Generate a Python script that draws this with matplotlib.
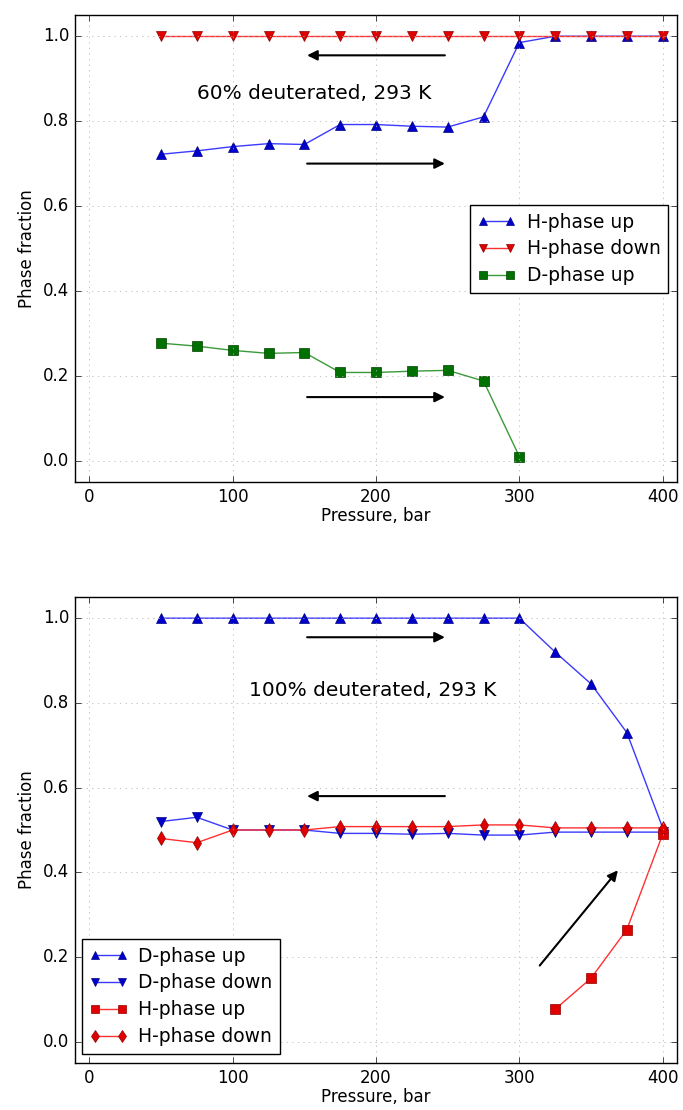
import numpy as np
import matplotlib
matplotlib.use('Agg')
import matplotlib.pyplot as plt

plt.style.use('classic')
plt.rcParams['figure.facecolor'] = 'white'
plt.rcParams['font.family'] = 'DejaVu Sans'
plt.rcParams['font.size'] = 12

# pressure steps, bar
p_all = [50, 75, 100, 125, 150, 175, 200, 225, 250, 275, 300, 325, 350, 375, 400]
p_low = [50, 75, 100, 125, 150, 175, 200, 225, 250, 275, 300]
p_high = [325, 350, 375, 400]

# 60% deuterated
h_up_60 = [0.722, 0.730, 0.740, 0.747, 0.745, 0.792, 0.792, 0.788, 0.786, 0.810,
           0.985, 1.0, 1.0, 1.0, 1.0]
h_down_60 = [1.0] * 15
d_up_60 = [0.277, 0.270, 0.260, 0.253, 0.255, 0.208, 0.208, 0.211, 0.213, 0.188, 0.010]

# 100% deuterated
d_up_100 = [1.0, 1.0, 1.0, 1.0, 1.0, 1.0, 1.0, 1.0, 1.0, 1.0, 1.0,
            0.920, 0.845, 0.730, 0.505]
d_down_100 = [0.520, 0.530, 0.500, 0.500, 0.500, 0.492, 0.492, 0.490, 0.492, 0.488,
              0.488, 0.495, 0.495, 0.495, 0.495]
h_up_100 = [0.077, 0.150, 0.265, 0.490]
h_down_100 = [0.480, 0.470, 0.500, 0.500, 0.500, 0.508, 0.508, 0.508, 0.508, 0.512,
              0.512, 0.505, 0.505, 0.505, 0.505]

fig = plt.figure(figsize=(6.83, 11.10), dpi=100)
W, H = 683., 1110.
ax1 = fig.add_axes([75/W, 1 - 482/H, 602/W, 467/H])
ax2 = fig.add_axes([75/W, 1 - 1063/H, 602/W, 466/H])

ms = 7.5
blue = dict(color='#3a3aff', mfc='#0000cc', mec='#000080', ms=ms, lw=1)
red = dict(color='#ff3030', mfc='#e00000', mec='#900000', ms=ms, lw=1)
green = dict(color='#3a9a3a', mfc='#007000', mec='#004000', ms=ms, lw=1)

ax1.plot(p_all, h_up_60, '-^', label='H-phase up', **blue)
ax1.plot(p_all, h_down_60, '-v', label='H-phase down', **red)
ax1.plot(p_low, d_up_60, '-s', label='D-phase up', **green)

ax2.plot(p_all, d_up_100, '-^', label='D-phase up', **blue)
ax2.plot(p_all, d_down_100, '-v', label='D-phase down', **blue)
ax2.plot(p_high, h_up_100, '-s', label='H-phase up', **red)
ax2.plot(p_all, h_down_100, '-d', label='H-phase down', **red)

arrow = dict(arrowstyle='-|>', color='black', lw=1.5, mutation_scale=15)
ax1.annotate('', xy=(150, 0.955), xytext=(250, 0.955), arrowprops=arrow)
ax1.annotate('', xy=(250, 0.70), xytext=(150, 0.70), arrowprops=arrow)
ax1.annotate('', xy=(250, 0.15), xytext=(150, 0.15), arrowprops=arrow)
ax1.text(157, 0.865, '60% deuterated, 293 K', ha='center', va='center', fontsize=14.5)

ax2.annotate('', xy=(250, 0.955), xytext=(150, 0.955), arrowprops=arrow)
ax2.annotate('', xy=(150, 0.58), xytext=(250, 0.58), arrowprops=arrow)
ax2.annotate('', xy=(370, 0.41), xytext=(313, 0.175), arrowprops=arrow)
ax2.text(198, 0.83, '100% deuterated, 293 K', ha='center', va='center', fontsize=14.5)

for ax in (ax1, ax2):
    ax.set_xlim(-10, 410)
    ax.set_ylim(-0.05, 1.05)
    ax.set_xticks([0, 100, 200, 300, 400])
    ax.set_yticks([0.0, 0.2, 0.4, 0.6, 0.8, 1.0])
    ax.grid(True, color='#b0b0b0', linestyle=':')
    ax.set_xlabel('Pressure, bar', labelpad=1)
    ax.set_ylabel('Phase fraction')
    ax.tick_params(labelsize=12)

leg_style = dict(borderaxespad=0, numpoints=2, fontsize=13.5, handlelength=2.0,
                 handletextpad=0.6, labelspacing=0.42, borderpad=0.4,
                 markerscale=0.8, fancybox=False)
ax1.legend(loc='lower right', bbox_to_anchor=(0.985, 0.405), **leg_style)
ax2.legend(loc='lower left', bbox_to_anchor=(0.012, 0.02), **leg_style)

fig.savefig('out.png', dpi=100, facecolor='white')
